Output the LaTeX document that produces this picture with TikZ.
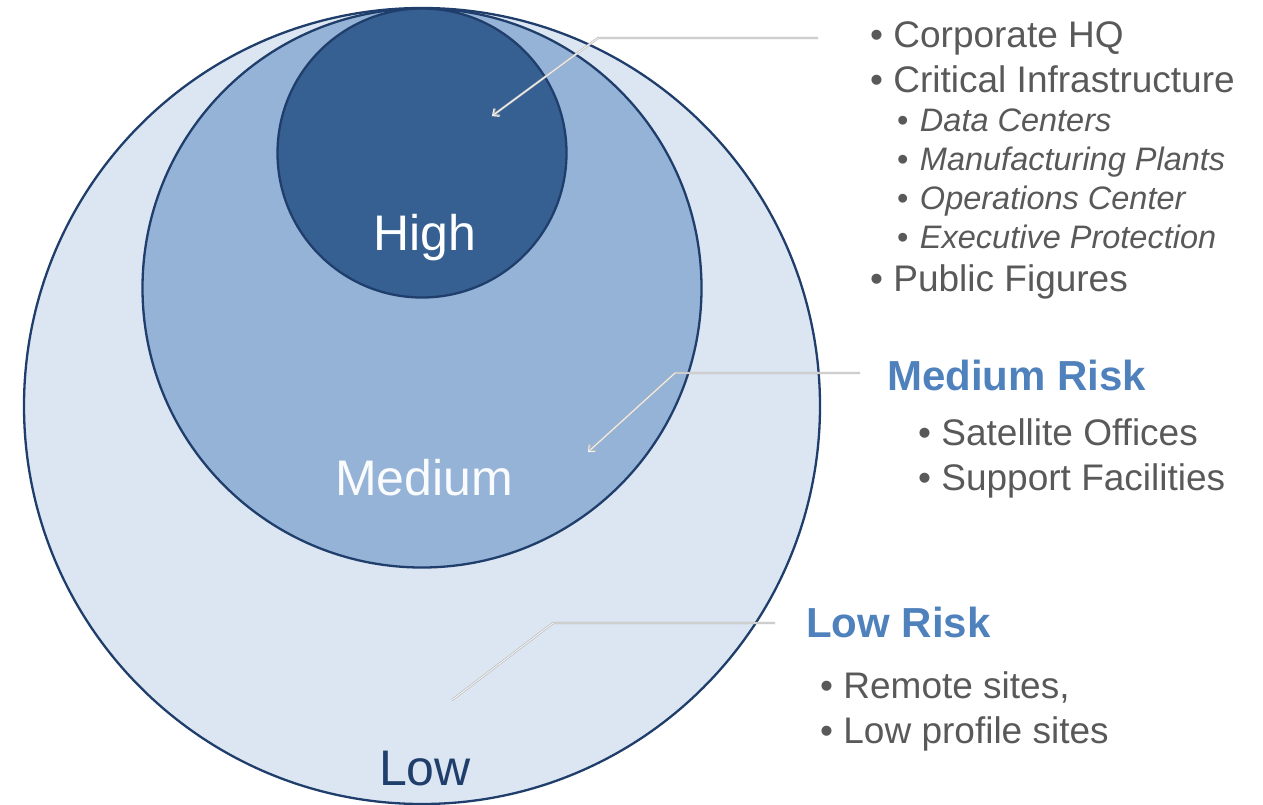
\documentclass[tikz,border=0pt]{standalone}
\usepackage{fontspec}
\setmainfont{Liberation Sans}
\usepackage{xcolor}
\usetikzlibrary{arrows.meta,positioning,shapes}
\definecolor{lowfill}{HTML}{DCE6F2}
\definecolor{medfill}{HTML}{95B3D7}
\definecolor{highfill}{HTML}{376092}
\definecolor{rim}{HTML}{1F3E6B}
\definecolor{bodytext}{HTML}{595959}
\definecolor{riskblue}{HTML}{4F81BD}
\tikzset{
  zone/.style = {circle, draw = rim, line width = 2.3pt, inner sep = 0pt},
  zone label/.style = {anchor = base, inner sep = 0pt, font = \fontsize{50}{60}\selectfont},
  item/.style = {anchor = base west, inner sep = 0pt, text = bodytext, font = \fontsize{37}{44}\selectfont},
  subitem/.style = {anchor = base west, inner sep = 0pt, text = bodytext, font = \fontsize{32.5}{38}\selectfont},
  riskhead/.style = {anchor = base west, inner sep = 0pt, text = riskblue, font = \fontsize{42}{50}\selectfont\bfseries},
  pointer/.style = {preaction = {draw = gray!55, line width = 2.2pt}, draw = white!92!gray, line width = .9pt}
}

\begin{document}
\begin{tikzpicture}[x = 1pt, y = -1pt]
\useasboundingbox (0,0) rectangle (1263,804);
% nested risk zones
\node[zone, fill = lowfill, minimum size = 796pt] (low) at (422,406) {};
\node[zone, fill = medfill, minimum size = 559pt] (medium) at (422,288) {};
\node[zone, fill = highfill, minimum size = 289pt] (high) at (422,153) {};
\node[zone label, white] (high-txt) at (425,250) {High};
\node[zone label, white!95!medfill] (medium-txt) at (424,495) {Medium};
\node[zone label, rim] (low-txt) at (425,785) {Low};

% high risk list
\node[item] (hq) at (870,47) {• Corporate HQ};
\node[item] (infra) at (870,92) {• Critical Infrastructure};
\node[subitem] (data) at (897,131) {•\hspace{.35em}\itshape Data Centers};
\node[subitem] (plants) at (897,170) {•\hspace{.35em}\itshape Manufacturing Plants};
\node[subitem] (ops) at (897,209) {•\hspace{.35em}\itshape Operations Center};
\node[subitem] (exec) at (897,248) {•\hspace{.35em}\itshape Executive Protection};
\node[item] (public) at (870,291) {• Public Figures};

% medium risk list
\node[riskhead] (med-head) at (887,390) {Medium Risk};
\node[item] (satellite) at (918,445) {• Satellite Offices};
\node[item] (support) at (918,490) {• Support Facilities};

% low risk list
\node[riskhead] (low-head) at (806,637) {Low Risk};
\node[item] (remote) at (820,698) {• Remote sites,};
\node[item] (profile) at (820,743) {• Low profile sites};

% pointers into the zones
\coordinate (hq-from) at (818,38);
\coordinate (hq-bend) at (598,38);
\coordinate (hq-to) at (492,116);
\draw[pointer, -{Straight Barb[length=5pt, width=9pt]}] (hq-from) -- (hq-bend) -- (hq-to);
\coordinate (med-from) at (860,373);
\coordinate (med-bend) at (675,373);
\coordinate (med-to) at (588,452);
\draw[pointer, -{Straight Barb[length=5pt, width=9pt]}] (med-from) -- (med-bend) -- (med-to);
\coordinate (low-from) at (775,623);
\coordinate (low-bend) at (553,623);
\coordinate (low-to) at (452,700);
\draw[pointer] (low-from) -- (low-bend) -- (low-to);
\end{tikzpicture}
\end{document}
